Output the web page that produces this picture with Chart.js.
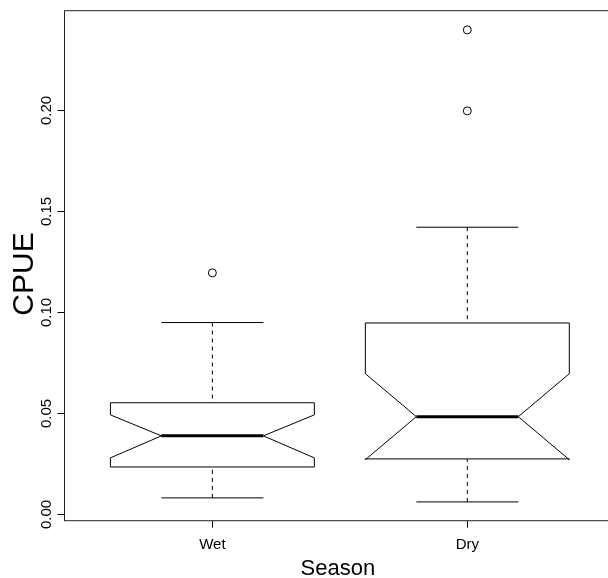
<!DOCTYPE html>
<html>
<head>
<meta charset="utf-8">
<script src="https://cdn.jsdelivr.net/npm/chart.js@4"></script>
<style>
  html, body { margin: 0; padding: 0; overflow: hidden; background: #fff; }
  #wrap { width: 640px; height: 578px; }
</style>
</head>
<body>
<div id="wrap"><canvas id="boxChart" width="640" height="578"></canvas></div>
<script>
// data
const seasons = ['Wet', 'Dry'];
const lowerWhisker = [0.0082, 0.0062];
const lowerHinge = [0.0235, 0.0275];
const notchLow = [0.0280, 0.0271];
const medians = [0.0389, 0.0484];
const notchHigh = [0.0493, 0.0697];
const upperHinge = [0.0553, 0.0948];
const upperWhisker = [0.0950, 0.1422];
const outliers = [[0.1196], [0.1998, 0.2399]];
const yTicks = [0, 0.05, 0.10, 0.15, 0.20];
const yTickLabels = ['0.00', '0.05', '0.10', '0.15', '0.20'];

const outlierPoints = [];
outliers.forEach((vals, i) => vals.forEach(v => outlierPoints.push({ x: i + 1, y: v })));

const FONT = '"Liberation Sans", Arial, sans-serif';

// draws the notched boxes using the chart scales
const boxPlugin = {
  id: 'notchedBoxes',
  beforeDatasetsDraw(chart) {
    const ctx = chart.ctx;
    const xs = chart.scales.x, ys = chart.scales.y;
    ctx.save();
    ctx.strokeStyle = '#000';
    seasons.forEach((s, i) => {
      const xc = xs.getPixelForValue(i + 1);
      const xl = xs.getPixelForValue(i + 1 - 0.4), xr = xs.getPixelForValue(i + 1 + 0.4);
      const nl = xs.getPixelForValue(i + 1 - 0.2), nr = xs.getPixelForValue(i + 1 + 0.2);
      const y = v => ys.getPixelForValue(v);

      // whiskers
      ctx.lineWidth = 1;
      ctx.setLineDash([4, 4]);
      ctx.beginPath();
      ctx.moveTo(xc, y(lowerWhisker[i])); ctx.lineTo(xc, y(lowerHinge[i]));
      ctx.moveTo(xc, y(upperWhisker[i])); ctx.lineTo(xc, y(upperHinge[i]));
      ctx.stroke();
      ctx.setLineDash([]);
      ctx.beginPath();
      ctx.moveTo(nl, y(lowerWhisker[i])); ctx.lineTo(nr, y(lowerWhisker[i]));
      ctx.moveTo(nl, y(upperWhisker[i])); ctx.lineTo(nr, y(upperWhisker[i]));
      ctx.stroke();

      // notched box
      ctx.beginPath();
      ctx.moveTo(xl, y(lowerHinge[i]));
      ctx.lineTo(xl, y(notchLow[i]));
      ctx.lineTo(nl, y(medians[i]));
      ctx.lineTo(xl, y(notchHigh[i]));
      ctx.lineTo(xl, y(upperHinge[i]));
      ctx.lineTo(xr, y(upperHinge[i]));
      ctx.lineTo(xr, y(notchHigh[i]));
      ctx.lineTo(nr, y(medians[i]));
      ctx.lineTo(xr, y(notchLow[i]));
      ctx.lineTo(xr, y(lowerHinge[i]));
      ctx.closePath();
      ctx.fillStyle = '#fff';
      ctx.fill();
      ctx.stroke();

      // median
      ctx.lineWidth = 3;
      ctx.beginPath();
      ctx.moveTo(nl, y(medians[i])); ctx.lineTo(nr, y(medians[i]));
      ctx.stroke();
    });
    ctx.restore();
  },
  afterDraw(chart) {
    const ctx = chart.ctx;
    const area = chart.chartArea;
    const xs = chart.scales.x, ys = chart.scales.y;
    ctx.save();
    // frame
    ctx.strokeStyle = '#222';
    ctx.lineWidth = 1;
    ctx.strokeRect(area.left, area.top, area.right - area.left, area.bottom - area.top);

    ctx.fillStyle = '#000';
    // y tick labels, rotated like R
    ctx.font = '15px ' + FONT;
    ctx.textAlign = 'center';
    ctx.textBaseline = 'alphabetic';
    yTicks.forEach((v, k) => {
      ctx.save();
      ctx.translate(51, ys.getPixelForValue(v));
      ctx.rotate(-Math.PI / 2);
      ctx.fillText(yTickLabels[k], 0, 0);
      ctx.restore();
    });
    // x category labels
    seasons.forEach((s, i) => {
      ctx.fillText(s, xs.getPixelForValue(i + 1), area.bottom + 28.5);
    });
    // axis titles
    ctx.font = '22px ' + FONT;
    ctx.fillText('Season', (area.left + area.right) / 2 - 2, area.bottom + 54.5);
    ctx.save();
    ctx.translate(33, 274);
    ctx.rotate(-Math.PI / 2);
    ctx.font = '30px ' + FONT;
    ctx.fillText('CPUE', 0, 0);
    ctx.restore();
    ctx.restore();
  }
};

new Chart(document.getElementById('boxChart'), {
  type: 'scatter',
  data: {
    datasets: [{
      data: outlierPoints,
      pointStyle: 'circle',
      pointRadius: 4,
      borderWidth: 1,
      borderColor: '#000',
      backgroundColor: 'rgba(0,0,0,0)'
    }]
  },
  options: {
    responsive: false,
    animation: false,
    layout: { padding: { top: 10.7, right: 24.8, left: 0, bottom: 0 } },
    plugins: { legend: { display: false }, tooltip: { enabled: false } },
    scales: {
      x: {
        type: 'linear',
        min: 0.42,
        max: 2.58,
        afterBuildTicks: s => { s.ticks = seasons.map((_, i) => ({ value: i + 1 })); },
        afterFit: s => { s.height = 57.3; },
        grid: { drawOnChartArea: false, color: '#000', tickLength: 7 },
        border: { display: false },
        ticks: { display: false }
      },
      y: {
        min: -0.0031,
        max: 0.2494,
        afterBuildTicks: s => { s.ticks = yTicks.map(v => ({ value: v })); },
        afterFit: s => { s.width = 64.5; },
        grid: { drawOnChartArea: false, color: '#000', tickLength: 7 },
        border: { display: false },
        ticks: { display: false }
      }
    }
  },
  plugins: [boxPlugin]
});
</script>
</body>
</html>
